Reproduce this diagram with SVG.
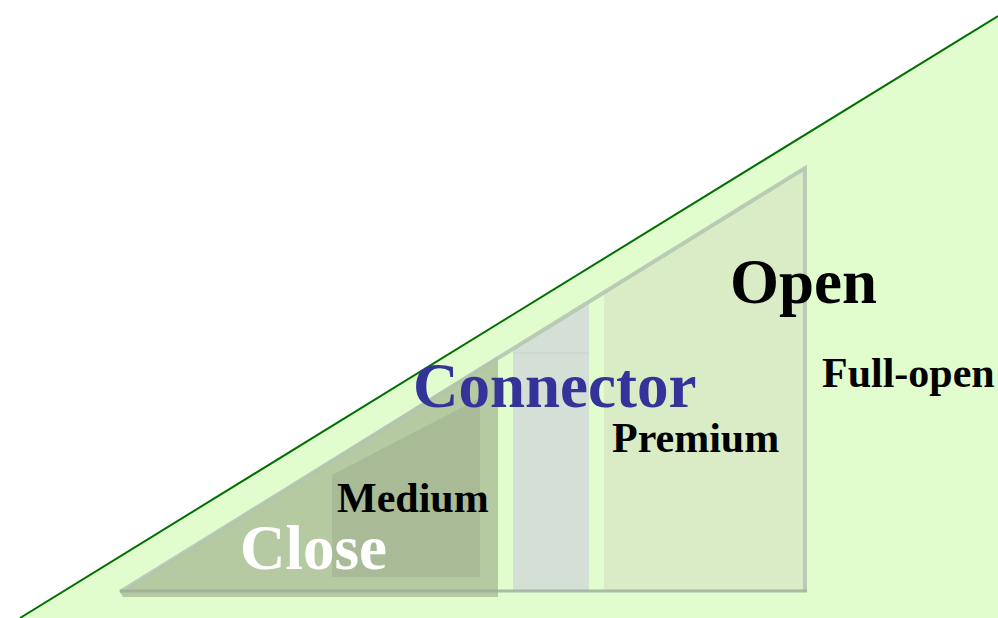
<svg xmlns="http://www.w3.org/2000/svg" width="998" height="618" viewBox="0 0 998 618">
<style>
.t{font-family:"Liberation Serif","Times New Roman",serif;font-weight:bold}
.big{font-size:63px}
.small{font-size:42px}
</style>
<rect width="998" height="618" fill="#ffffff"/>
<g id="background">
<polygon points="20,618 998,16 998,618" fill="#e2fdcd"/>
</g>
<g id="connectors">
<line x1="20" y1="618" x2="998" y2="16" stroke="#007000" stroke-width="2"/>
</g>
<g id="open-region">
<polygon points="604,292 805,168 805,591 604,591" fill="#d9ecc6"/>
</g>
<g id="connector-region">
<polygon points="513,349 589,302 589,591 513,591" fill="#d4dfd5"/>
<line x1="513" y1="353" x2="589" y2="353" stroke="#c8d4c8" stroke-width="1"/>
</g>
<g id="close-region">
<polygon points="120,592 498,356 498,597 123,597" fill="#b6caa1"/>
</g>
<g id="medium-region">
<polygon points="332,475 480,398 480,577 332,577" fill="#a9ba97"/>
</g>
<g id="outline">
<polyline points="120,592 805,168 805,591" fill="none" stroke="#b2c4b2" stroke-width="4" stroke-opacity="0.85"/>
<line x1="120" y1="591" x2="807" y2="591" stroke="#9aac9a" stroke-width="3" stroke-opacity="0.8"/>
</g>
<g id="labels">
<text class="t big" x="730" y="303" fill="#000000">Open</text>
<text class="t small" x="822" y="387" fill="#000000">Full-open</text>
<text class="t big" x="413" y="407" fill="#333399">Connector</text>
<text class="t small" x="612" y="452" fill="#000000">Premium</text>
<text class="t small" x="337" y="512" fill="#000000">Medium</text>
<text class="t big" x="240" y="569" fill="#ffffff">Close</text>
</g>
</svg>
